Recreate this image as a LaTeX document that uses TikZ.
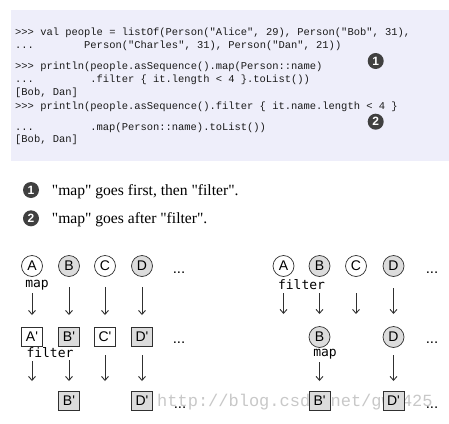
\documentclass[tikz,border=0pt]{standalone}
\usepackage{fontspec}
\setmainfont{Liberation Serif}
\newfontfamily\plainserif{Liberation Serif}
\newfontfamily\codefont{Liberation Mono}
\newfontfamily\labfont{Liberation Sans}
\newfontfamily\opfont{DejaVu Sans Mono}
\usetikzlibrary{arrows.meta}
\definecolor{codebg}{HTML}{EEEEFA}
\definecolor{codefg}{HTML}{1A1A1A}
\definecolor{numbg}{HTML}{404040}
\definecolor{itemgray}{HTML}{DCDCDC}
\definecolor{linegray}{HTML}{303030}
\definecolor{wmark}{HTML}{C8C8C8}
\tikzset{
  codeline/.style={anchor=base west, inner sep=0pt, text=codefg, font=\codefont\fontsize{10.45}{12}\selectfont},
  numcirc/.style={circle, fill=numbg, text=white, inner sep=0pt, minimum size=#1, font=\labfont\bfseries\fontsize{12}{13}\selectfont},
  bullettext/.style={anchor=base west, inner sep=0pt, font=\plainserif\fontsize{15.6}{18}\selectfont},
  elem/.style={circle, draw=linegray, line width=0.7pt, minimum size=21pt, inner sep=0pt, font=\labfont\fontsize{14}{16}\selectfont},
  elemg/.style={elem, fill=itemgray},
  mapped/.style={rectangle, draw=linegray, line width=0.7pt, minimum width=21pt, minimum height=19pt, inner sep=0pt, fill=white, font=\labfont\fontsize{14}{16}\selectfont},
  mappedg/.style={mapped, fill=itemgray},
  oplabel/.style={inner sep=0pt, font=\opfont\fontsize{13}{15}\selectfont},
  more/.style={anchor=base, inner sep=0pt, font=\labfont\fontsize{15}{16}\selectfont},
  flow/.style={draw=linegray, line width=0.9pt, -{Straight Barb[length=4pt,width=7pt]}}
}
\begin{document}
\begin{tikzpicture}[x=1pt, y=-1pt]
\useasboundingbox (0,0) rectangle (449,423);
\fill[white] (0,0) rectangle (449,423);
% code box
\fill[codebg] (11,10) rectangle (449,161);
\node[codeline] (c1) at (15,35) {>>> val people = listOf(Person("Alice", 29), Person("Bob", 31),};
\node[codeline] (c2a) at (15,48) {...};
\node[codeline] (c2b) at (84,48) {Person("Charles", 31), Person("Dan", 21))};
\node[codeline] (c3) at (15,69) {>>> println(people.asSequence().map(Person::name)};
\node[codeline] (c4a) at (15,82.5) {...};
\node[codeline] (c4b) at (90.2,82.5) {.filter \{ it.length < 4 \}.toList())};
\node[codeline] (c5) at (15,95) {[Bob, Dan]};
\node[codeline] (c6) at (15,109) {>>> println(people.asSequence().filter \{ it.name.length < 4 \}};
\node[codeline] (c7a) at (15,130.5) {...};
\node[codeline] (c7b) at (90.2,130.5) {.map(Person::name).toList())};
\node[codeline] (c8) at (15,142.5) {[Bob, Dan]};
\node[numcirc=16pt] (n1) at (375.7,61) {1};
\node[numcirc=16pt] (n2) at (375.7,121.7) {2};
% bullets
\node[numcirc=16pt] (b1) at (31,190) {1};
\node[bullettext] (t1) at (51.7,195.5) {"map" goes first, then "filter".};
\node[numcirc=16pt] (b2) at (31,218.3) {2};
\node[bullettext] (t2) at (51.7,223.8) {"map" goes after "filter".};
% watermark
\node[anchor=base west, inner sep=0pt, text=wmark, font=\codefont\fontsize{17}{18}\selectfont] (wm) at (157,406) {http://blog.csdn.net/gw0425};
% left diagram
\node[elem]  (LA) at (32,266) {A};
\node[elemg] (LB) at (69,266) {B};
\node[elem]  (LC) at (105,266) {C};
\node[elemg] (LD) at (142,266) {D};
\node[more] (Ldots1) at (179,273) {...};
\node[oplabel] (Lmap) at (37,285.5) {map};
\coordinate (LAs) at (32,293);
\coordinate (LBs) at (69,287);
\coordinate (LCs) at (105,287);
\coordinate (LDs) at (142,287);
\node[mapped]  (LA2) at (32,337) {A'};
\node[mappedg] (LB2) at (69,337) {B'};
\node[mapped]  (LC2) at (105,337) {C'};
\node[mappedg] (LD2) at (142,337) {D'};
\node[more] (Ldots2) at (179,343) {...};
\draw[flow] (LAs) -- (LA2.north |- 0,315);
\draw[flow] (LBs) -- (LB2.north |- 0,315);
\draw[flow] (LCs) -- (LC2.north |- 0,315);
\draw[flow] (LDs) -- (LD2.north |- 0,315);
\node[oplabel] (Lfilter) at (50,353) {filter};
\coordinate (LA2s) at (32,361);
\coordinate (LB2s) at (69,360);
\coordinate (LC2s) at (105,355);
\coordinate (LD2s) at (142,355);
\coordinate (LA2e) at (32,381);
\coordinate (LC2e) at (105,381);
\node[mappedg] (LB3) at (69,400.5) {B'};
\node[mappedg] (LD3) at (142,400.5) {D'};
\node[more] (Ldots3) at (180,408) {...};
\draw[flow] (LA2s) -- (LA2e);
\draw[flow] (LB2s) -- (LB3.north |- 0,381);
\draw[flow] (LC2s) -- (LC2e);
\draw[flow] (LD2s) -- (LD3.north |- 0,381);
% right diagram
\node[elem]  (RA) at (283.5,266) {A};
\node[elemg] (RB) at (319.5,266) {B};
\node[elem]  (RC) at (356,266) {C};
\node[elemg] (RD) at (393.5,266) {D};
\node[more] (Rdots1) at (432,273) {...};
\node[oplabel] (Rfilter) at (301.5,285) {filter};
\coordinate (RAs) at (283.5,293);
\coordinate (RBs) at (319.5,293);
\coordinate (RCs) at (356,293);
\coordinate (RDs) at (393.5,288);
\coordinate (RAe) at (283.5,314);
\coordinate (RCe) at (356,314);
\node[elemg] (RB2) at (319.5,337) {B};
\node[elemg] (RD2) at (393.5,337) {D};
\node[more] (Rdots2) at (432,343) {...};
\draw[flow] (RAs) -- (RAe);
\draw[flow] (RBs) -- (RB2.north |- 0,314);
\draw[flow] (RCs) -- (RCe);
\draw[flow] (RDs) -- (RD2.north |- 0,314);
\node[oplabel] (Rmap) at (325,354) {map};
\coordinate (RB2s) at (319.5,362);
\coordinate (RD2s) at (393.5,355);
\node[mappedg] (RB3) at (319.5,400.5) {B'};
\node[mappedg] (RD3) at (393.5,400.5) {D'};
\node[more] (Rdots3) at (432,408) {...};
\draw[flow] (RB2s) -- (RB3.north |- 0,381);
\draw[flow] (RD2s) -- (RD3.north |- 0,381);
\end{tikzpicture}
\end{document}
